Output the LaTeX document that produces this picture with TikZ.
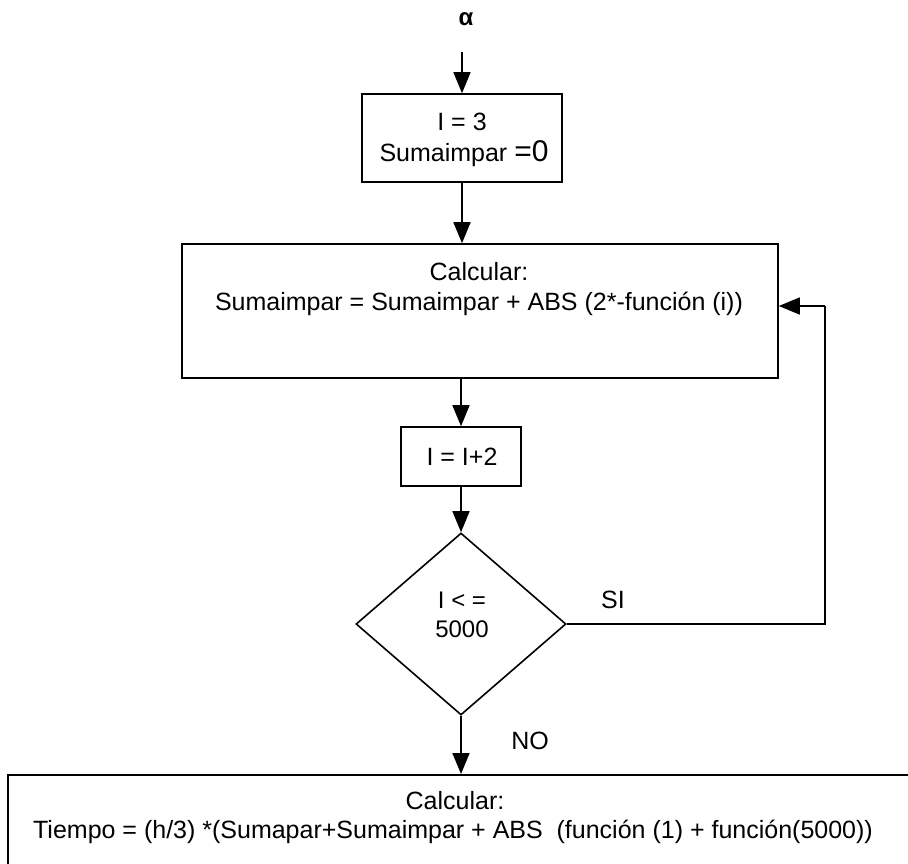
\documentclass[tikz,border=0pt]{standalone}
\usepackage{fontspec}
\setmainfont{Liberation Sans}
\usetikzlibrary{arrows.meta,shapes.geometric}
\begin{document}
\begin{tikzpicture}[x=1pt,y=-1pt,
  every node/.style={font=\fontsize{25}{28}\selectfont},
  line/.style={line width=1.6pt},
  arr/.style={line width=1.6pt,-{Triangle[width=17pt,length=21pt]}},
  boxnode/.style={draw,line width=1.6pt,rectangle,inner sep=0pt},
  txt/.style={inner sep=0pt,anchor=base}
]
\useasboundingbox (0,0) rectangle (908,863);
\clip (0,0) rectangle (908,863);
% alpha
\node[font=\bfseries\fontsize{24}{26}\selectfont] (alpha) at (466,19) {α};
\coordinate (a0) at (462,52);
% box 1
\node[boxnode,minimum width=200pt,minimum height=88pt] (b1) at (462,138) {};
\node[txt] (t1a) at (462,130) {I = 3};
\node[txt] (t1b) at (464,161) {Sumaimpar {\fontsize{30}{30}\selectfont =0}};
% box 2
\node[boxnode,minimum width=596pt,minimum height=134pt] (b2) at (480,311) {};
\node[txt] (t2a) at (479,280) {Calcular:};
\node[txt] (t2b) at (479,310) {Sumaimpar = Sumaimpar + ABS (2*-función (i))};
% box 3
\node[boxnode,minimum width=120pt,minimum height=59pt] (b3) at (461,456.5) {};
\node[txt] (t3) at (462,465) {I = I+2};
% diamond
\node[draw,line width=1.6pt,diamond,inner sep=0pt,minimum width=210pt,minimum height=182pt] (d) at (461,624) {};
\node[txt,font=\fontsize{24}{28}\selectfont] (dt1) at (462,608) {I < =};
\node[txt,font=\fontsize{24}{28}\selectfont] (dt2) at (462,637) {5000};
\node[txt] (si) at (613,608) {SI};
\node[txt] (no) at (530,749) {NO};
% bottom box
\node[boxnode,minimum width=940pt,minimum height=140pt,anchor=north west] (b4) at (7,774) {};
\node[txt] (t4a) at (455,809) {Calcular:};
\node[txt] (t4b) at (453,838) {Tiempo = (h/3) *(Sumapar+Sumaimpar + ABS \ (función (1) + función(5000))};
% loop coordinates
\coordinate (r1) at (825,624);
\coordinate (r2) at (825,306);
% connectors
\draw[arr] (a0) -- (b1.north);
\draw[arr] (b1.south) -- (b1.south |- b2.north);
\draw[arr] (b2.south -| b3.north) -- (b3.north);
\draw[arr] (b3.south) -- (d.north);
\draw[arr] (d.south) -- (d.south |- b4.north);
\draw[line] (d.east) -- (r1) -- (r2);
\draw[arr] (r2) -- (r2 -| b2.east);
\end{tikzpicture}
\end{document}
